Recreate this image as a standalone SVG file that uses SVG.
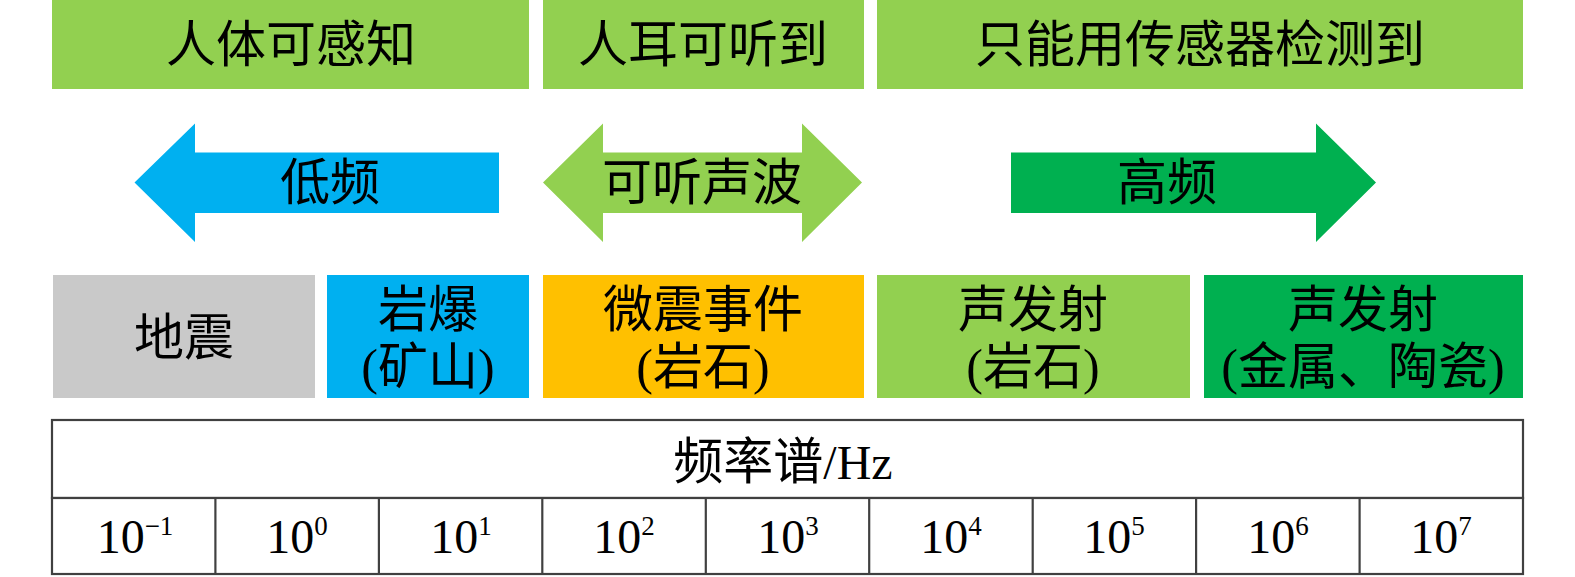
<svg xmlns="http://www.w3.org/2000/svg" width="1575" height="577" viewBox="0 0 1575 577">
<style>
.t{font-family:"Liberation Serif","Noto Sans CJK SC",serif;fill:#000;text-anchor:middle;}
.big{font-size:50px;}
.num{font-size:48px;}
.sup{font-size:27px;}
.lat{font-size:48px;}
.cell{fill:#fff;stroke:#404040;stroke-width:2.2;}
</style>
<rect width="1575" height="577" fill="#fff"/>
<g id="top-perceive"><rect x="52" y="0" width="477" height="89" fill="#92D050"/><text class="t big" x="291" y="62">人体可感知</text></g>
<g id="top-hear"><rect x="543" y="0" width="321" height="89" fill="#92D050"/><text class="t big" x="703" y="62">人耳可听到</text></g>
<g id="top-sensor"><rect x="877" y="0" width="646" height="89" fill="#92D050"/><text class="t big" x="1200" y="62">只能用传感器检测到</text></g>
<g id="connectors">
<g id="arrow-low"><polygon points="134.5,182.5 195,123.5 195,152.5 499,152.5 499,213 195,213 195,242" fill="#00B0F0"/><text class="t big" x="330" y="200">低频</text></g>
<g id="arrow-audible"><polygon points="543,182.5 603,123.5 603,152.5 802,152.5 802,123.5 862,182.5 802,242 802,213 603,213 603,242" fill="#92D050"/><text class="t big" x="702" y="200">可听声波</text></g>
<g id="arrow-high"><polygon points="1011,152.5 1316,152.5 1316,123.5 1376,182.5 1316,242 1316,213 1011,213" fill="#00B050"/><text class="t big" x="1167" y="200">高频</text></g>
</g>
<g id="earthquake"><rect x="53" y="275" width="262" height="123" fill="#C9C9C9"/><text class="t big" x="184" y="355">地震</text></g>
<g id="rockburst"><rect x="327" y="275" width="202" height="123" fill="#00B0F0"/><text class="t big" x="428" y="327">岩爆</text><text class="t big" x="428" y="384">(矿山)</text></g>
<g id="microseismic"><rect x="543" y="275" width="321" height="123" fill="#FFC000"/><text class="t big" x="703" y="327">微震事件</text><text class="t big" x="703" y="384">(岩石)</text></g>
<g id="ae-rock"><rect x="877" y="275" width="313" height="123" fill="#92D050"/><text class="t big" x="1033" y="327">声发射</text><text class="t big" x="1033" y="384">(岩石)</text></g>
<g id="ae-metal"><rect x="1204" y="275" width="319" height="123" fill="#00B050"/><text class="t big" x="1363" y="327">声发射</text><text class="t big" x="1363" y="384">(金属、陶瓷)</text></g>
<g id="spectrum-table">
<rect class="cell" x="52" y="420" width="1471" height="78"/>
<text class="t big" x="783" y="479">频率谱<tspan class="lat">/Hz</tspan></text>
<rect class="cell" x="52" y="498" width="1471" height="76"/>
<g stroke="#404040" stroke-width="2.2">
<line x1="215.4" y1="498" x2="215.4" y2="574"/>
<line x1="378.9" y1="498" x2="378.9" y2="574"/>
<line x1="542.3" y1="498" x2="542.3" y2="574"/>
<line x1="705.8" y1="498" x2="705.8" y2="574"/>
<line x1="869.2" y1="498" x2="869.2" y2="574"/>
<line x1="1032.7" y1="498" x2="1032.7" y2="574"/>
<line x1="1196.1" y1="498" x2="1196.1" y2="574"/>
<line x1="1359.6" y1="498" x2="1359.6" y2="574"/>
</g>
<text class="t num" x="135" y="553">10<tspan class="sup" dy="-18">−1</tspan></text>
<text class="t num" x="297" y="553">10<tspan class="sup" dy="-18">0</tspan></text>
<text class="t num" x="461" y="553">10<tspan class="sup" dy="-18">1</tspan></text>
<text class="t num" x="624" y="553">10<tspan class="sup" dy="-18">2</tspan></text>
<text class="t num" x="788" y="553">10<tspan class="sup" dy="-18">3</tspan></text>
<text class="t num" x="951" y="553">10<tspan class="sup" dy="-18">4</tspan></text>
<text class="t num" x="1114" y="553">10<tspan class="sup" dy="-18">5</tspan></text>
<text class="t num" x="1278" y="553">10<tspan class="sup" dy="-18">6</tspan></text>
<text class="t num" x="1441" y="553">10<tspan class="sup" dy="-18">7</tspan></text>
</g>
</svg>
